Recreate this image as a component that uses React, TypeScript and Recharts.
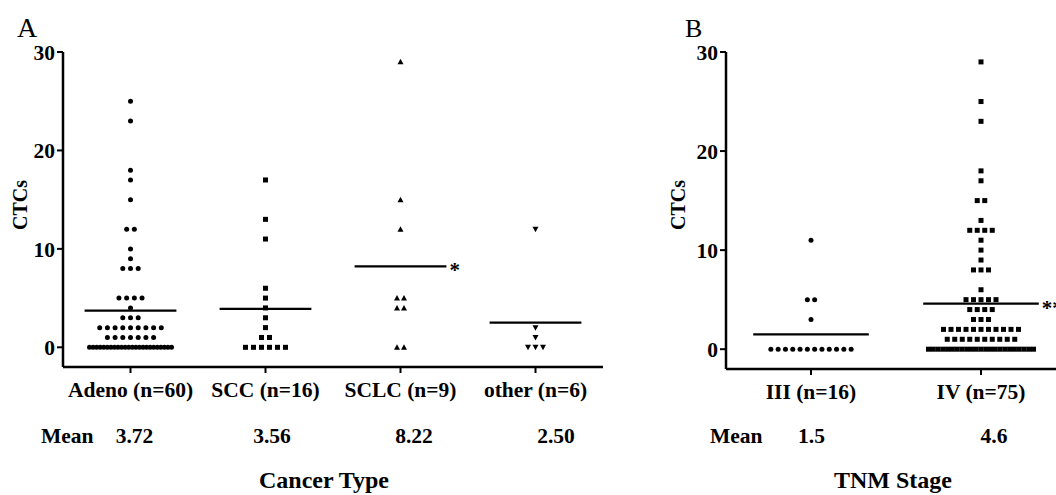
import React from 'react';
import { ScatterChart, Scatter, XAxis, YAxis, ReferenceLine } from 'recharts';

// ---------- Data ----------
const cancerTypes = ['Adeno (n=60)', 'SCC (n=16)', 'SCLC (n=9)', 'other (n=6)'];
const adenoValues = [
  25, 23, 18, 17, 15, 12, 12, 10, 9, 8, 8, 8, 5, 5, 5, 5, 4, 3, 3, 3,
  2, 2, 2, 2, 2, 2, 2, 2, 2,
  1, 1, 1, 1, 1, 1, 1,
  0, 0, 0, 0, 0, 0, 0, 0, 0, 0, 0, 0, 0, 0, 0, 0, 0, 0, 0, 0, 0, 0, 0, 0,
];
const sccValues = [17, 13, 11, 6, 5, 4, 3, 2, 1, 1, 0, 0, 0, 0, 0, 0];
const sclcValues = [29, 15, 12, 5, 5, 4, 4, 0, 0];
const otherValues = [12, 2, 1, 0, 0, 0];
const cancerMeanLines = [3.72, 3.9, 8.22, 2.5];
const cancerMeanLabels = ['3.72', '3.56', '8.22', '2.50'];
const cancerSig = ['', '', '*', ''];

const stages = ['III (n=16)', 'IV (n=75)'];
const stageIIIValues = [11, 5, 5, 3, 0, 0, 0, 0, 0, 0, 0, 0, 0, 0, 0, 0];
const stageIVValues = [
  29, 25, 23, 18, 17, 15, 15, 13, 12, 12, 12, 12, 11, 10, 9, 8, 8, 8, 6,
  5, 5, 5, 5, 5, 4, 4, 4, 4, 3, 3, 3,
  2, 2, 2, 2, 2, 2, 2, 2, 2, 2, 2,
  1, 1, 1, 1, 1, 1, 1, 1, 1, 1,
  0, 0, 0, 0, 0, 0, 0, 0, 0, 0, 0, 0, 0, 0, 0, 0, 0, 0, 0, 0, 0, 0, 0,
];
const stageMeanLines = [1.5, 4.6];
const stageMeanLabels = ['1.5', '4.6'];
const stageSig = ['', '**'];

const yTicks = [0, 10, 20, 30];

// ---------- Helpers ----------
const FONT = "'Liberation Serif', 'Times New Roman', serif";

function swarm(values: number[], center: number, spacing: number, maxWidth: number) {
  const counts = new Map<number, number>();
  values.forEach((v) => counts.set(v, (counts.get(v) || 0) + 1));
  const seen = new Map<number, number>();
  return values.map((v) => {
    const k = counts.get(v) || 1;
    const i = seen.get(v) || 0;
    seen.set(v, i + 1);
    const step = k > 1 ? Math.min(spacing, maxWidth / (k - 1)) : 0;
    return { x: center + (i - (k - 1) / 2) * step, y: v };
  });
}

const Dot = (p: any) =>
  p.cx == null ? null : <circle cx={p.cx} cy={p.cy} r={2.5} fill="#000" />;
const Square = (p: any) =>
  p.cx == null ? null : <rect x={p.cx - 2.5} y={p.cy - 2.5} width={5} height={5} fill="#000" />;
const TriUp = (p: any) =>
  p.cx == null ? null : (
    <polygon points={`${p.cx},${p.cy - 3} ${p.cx + 3},${p.cy + 2.5} ${p.cx - 3},${p.cy + 2.5}`} fill="#000" />
  );
const TriDown = (p: any) =>
  p.cx == null ? null : (
    <polygon points={`${p.cx},${p.cy + 3} ${p.cx + 3},${p.cy - 2.5} ${p.cx - 3},${p.cy - 2.5}`} fill="#000" />
  );

const SigLabel = (props: any) => {
  const vb = props.viewBox || {};
  const x = (vb.x ?? 0) + (vb.width ?? 0) + 3;
  const y = (vb.y ?? 0) + (vb.height ?? 0) / 2;
  return (
    <text x={x} y={y + 11} fontFamily={FONT} fontWeight="bold" fontSize={21} fill="#000">
      {props.text}
    </text>
  );
};

const axisLine = { stroke: '#000', strokeWidth: 2.5 };
const tickLine = { stroke: '#000', strokeWidth: 2 };
const tickStyle = { fill: '#000', fontSize: 21.5, fontWeight: 'bold', fontFamily: FONT };

// unit widths in px for spacing conversion
const unitA = 135;
const unitB = 170;

const adenoPts = swarm(adenoValues, 0.5, 7.7 / unitA, 82 / unitA);
const sccPts = swarm(sccValues, 1.5, 8 / unitA, 82 / unitA);
const sclcPts = swarm(sclcValues, 2.5, 7 / unitA, 82 / unitA);
const otherPts = swarm(otherValues, 3.5, 7.5 / unitA, 82 / unitA);
const iiiPts = swarm(stageIIIValues, 0.5, 7.3 / unitB, 105 / unitB);
const ivPts = swarm(stageIVValues, 1.5, 7.5 / unitB, 105 / unitB);

const HALF = 0.34;

export default function App() {
  return (
    <div
      style={{
        position: 'absolute',
        left: 0,
        top: 0,
        width: 1056,
        height: 495,
        overflow: 'hidden',
        background: '#fff',
      }}
    >
      {/* Panel A */}
      <div style={{ position: 'absolute', left: 0, top: 0 }}>
        <ScatterChart width={640} height={495} margin={{ top: 52, right: 37, bottom: 88, left: 0 }}>
          <XAxis
            type="number"
            dataKey="x"
            domain={[0, 4]}
            ticks={[0.5, 1.5, 2.5, 3.5]}
            interval={0}
            tickFormatter={(v: number) => cancerTypes[Math.floor(v)]}
            height={40}
            axisLine={axisLine}
            tickLine={tickLine}
            tickSize={6}
            tickMargin={9}
            tick={tickStyle}
            allowDataOverflow
          />
          <YAxis
            type="number"
            dataKey="y"
            domain={[-2, 30]}
            ticks={yTicks}
            interval={0}
            width={63}
            axisLine={axisLine}
            tickLine={tickLine}
            tickSize={6}
            tickMargin={2}
            tick={tickStyle}
            allowDataOverflow
          />
          {cancerMeanLines.map((m, i) => (
            <ReferenceLine
              key={'ma' + i}
              segment={[
                { x: i + 0.5 - HALF, y: m },
                { x: i + 0.5 + HALF, y: m },
              ]}
              stroke="#000"
              strokeWidth={2.2}
              ifOverflow="visible"
              label={cancerSig[i] ? <SigLabel text={cancerSig[i]} /> : undefined}
            />
          ))}
          <Scatter data={adenoPts} shape={Dot} isAnimationActive={false} />
          <Scatter data={sccPts} shape={Square} isAnimationActive={false} />
          <Scatter data={sclcPts} shape={TriUp} isAnimationActive={false} />
          <Scatter data={otherPts} shape={TriDown} isAnimationActive={false} />
        </ScatterChart>
      </div>

      {/* Panel B */}
      <div style={{ position: 'absolute', left: 660, top: 0 }}>
        <ScatterChart width={406} height={495} margin={{ top: 52, right: 0, bottom: 86, left: 0 }}>
          <XAxis
            type="number"
            dataKey="x"
            domain={[0, 2]}
            ticks={[0.5, 1.5]}
            interval={0}
            tickFormatter={(v: number) => stages[Math.floor(v)]}
            height={40}
            axisLine={axisLine}
            tickLine={tickLine}
            tickSize={6}
            tickMargin={9}
            tick={tickStyle}
            allowDataOverflow
          />
          <YAxis
            type="number"
            dataKey="y"
            domain={[-2, 30]}
            ticks={yTicks}
            interval={0}
            width={66}
            axisLine={axisLine}
            tickLine={tickLine}
            tickSize={6}
            tickMargin={2}
            tick={tickStyle}
            allowDataOverflow
          />
          {stageMeanLines.map((m, i) => (
            <ReferenceLine
              key={'mb' + i}
              segment={[
                { x: i + 0.5 - HALF, y: m },
                { x: i + 0.5 + HALF, y: m },
              ]}
              stroke="#000"
              strokeWidth={2.2}
              ifOverflow="visible"
              label={stageSig[i] ? <SigLabel text={stageSig[i]} /> : undefined}
            />
          ))}
          <Scatter data={iiiPts} shape={Dot} isAnimationActive={false} />
          <Scatter data={ivPts} shape={Square} isAnimationActive={false} />
        </ScatterChart>
      </div>

      {/* Text overlay */}
      <svg
        width={1056}
        height={495}
        style={{ position: 'absolute', left: 0, top: 0, pointerEvents: 'none' }}
        fontFamily={FONT}
        fill="#000"
      >
        <text x={17} y={37} fontSize={28}>A</text>
        <text x={685} y={37} fontSize={26}>B</text>
        <text
          x={20}
          y={205}
          fontSize={20}
          fontWeight="bold"
          textAnchor="middle"
          dy="0.35em"
          transform="rotate(-90, 20, 205)"
        >
          CTCs
        </text>
        <text
          x={678}
          y={205}
          fontSize={20}
          fontWeight="bold"
          textAnchor="middle"
          dy="0.35em"
          transform="rotate(-90, 678, 205)"
        >
          CTCs
        </text>
        <text x={41} y={443} fontSize={21.5} fontWeight="bold">Mean</text>
        {cancerMeanLabels.map((t, i) => (
          <text key={'la' + i} x={[134.5, 272, 414, 556][i]} y={443} fontSize={21.5} fontWeight="bold" textAnchor="middle">
            {t}
          </text>
        ))}
        <text x={710} y={443} fontSize={21.5} fontWeight="bold">Mean</text>
        {stageMeanLabels.map((t, i) => (
          <text key={'lb' + i} x={[811.5, 994][i]} y={443} fontSize={21.5} fontWeight="bold" textAnchor="middle">
            {t}
          </text>
        ))}
        <text x={324} y={488} fontSize={24} fontWeight="bold" textAnchor="middle">Cancer Type</text>
        <text x={893} y={488} fontSize={24} fontWeight="bold" textAnchor="middle">TNM Stage</text>
      </svg>
    </div>
  );
}
